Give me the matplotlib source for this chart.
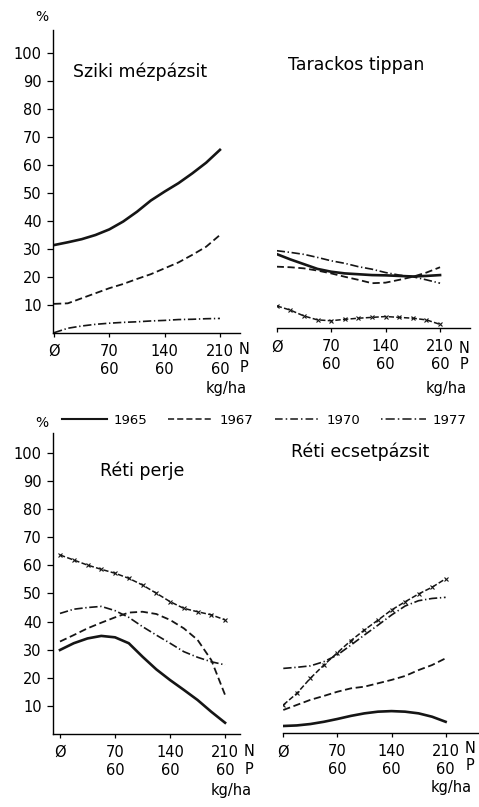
import matplotlib
matplotlib.use("Agg")
import matplotlib.pyplot as plt
from matplotlib.lines import Line2D

# N dose (kg/ha), with 60 kg/ha P from 70 N onwards
dose = [0, 17.5, 35, 52.5, 70, 87.5, 105, 122.5, 140, 157.5, 175, 192.5, 210]
tick_pos = [0, 70, 140, 210]
tick_lab = ["Ø", "70\n60", "140\n60", "210\n60"]
yticks = [10, 20, 30, 40, 50, 60, 70, 80, 90, 100]
years = ["1965", "1967", "1970", "1977"]

# share in the sward, %
sziki_1965 = [31.4, 32.4, 33.5, 35.0, 37.0, 39.8, 43.3, 47.3, 50.5, 53.5, 57.0, 60.8, 65.4]
sziki_1967 = [10.4, 10.6, 12.4, 14.2, 16.0, 17.5, 19.3, 21.0, 23.1, 25.2, 27.9, 30.8, 35.0]
sziki_1970 = [0.1, 1.7, 2.5, 3.1, 3.5, 3.8, 4.0, 4.3, 4.5, 4.8, 4.9, 5.1, 5.2]

tarackos_1965 = [26.5, 24.6, 22.9, 21.2, 20.2, 19.6, 19.3, 19.0, 18.9, 18.7, 18.5, 18.7, 19.0]
tarackos_1967 = [22.0, 21.8, 21.4, 20.6, 19.6, 18.4, 17.3, 16.1, 16.3, 17.3, 18.4, 19.9, 21.8]
tarackos_1970 = [27.7, 27.1, 26.4, 25.3, 24.1, 23.2, 22.0, 21.1, 19.9, 19.0, 18.4, 17.3, 16.1]
tarackos_1977 = [8.0, 6.5, 4.4, 3.0, 2.7, 3.2, 3.6, 3.9, 4.2, 3.9, 3.6, 3.0, 1.4]

perje_1965 = [29.9, 32.3, 34.0, 34.9, 34.4, 32.3, 27.5, 23.0, 19.2, 15.7, 12.1, 7.9, 4.0]
perje_1967 = [32.9, 35.2, 37.6, 39.6, 41.5, 43.2, 43.5, 42.7, 40.6, 37.6, 33.5, 26.3, 13.9]
perje_1970 = [42.9, 44.4, 45.0, 45.4, 43.9, 41.5, 38.2, 35.2, 32.3, 29.3, 27.3, 25.7, 24.6]
perje_1977 = [63.7, 61.9, 60.1, 58.6, 57.2, 55.4, 53.0, 50.1, 47.1, 44.7, 43.5, 42.4, 40.6]

ecset_1965 = [2.6, 2.8, 3.3, 4.1, 5.1, 6.2, 7.1, 7.7, 7.9, 7.7, 7.1, 5.9, 4.1]
ecset_1967 = [8.3, 10.1, 11.9, 13.3, 14.8, 16.0, 16.6, 17.8, 19.0, 20.4, 22.5, 24.3, 26.7]
ecset_1970 = [23.1, 23.5, 24.0, 25.5, 27.9, 31.4, 35.0, 38.5, 42.1, 45.3, 47.2, 48.0, 48.4]
ecset_1977 = [10.1, 14.2, 19.6, 24.3, 28.7, 33.0, 36.8, 40.3, 43.9, 46.8, 49.6, 52.0, 55.0]

INK = "#151515"
styles = {
    "1965": dict(color=INK, lw=1.9, ls="-"),
    "1967": dict(color=INK, lw=1.3, ls=(0, (4, 2))),
    "1970": dict(color=INK, lw=1.2, ls=(0, (5, 1.6, 0.8, 1.6))),
    "1977": dict(color=INK, lw=1.1, ls=(0, (3.5, 1.5)), marker="x", ms=3, mew=0.8),
}

W, H = 479, 807
fig = plt.figure(figsize=(W / 100, H / 100), dpi=100)


def px_axes(left, right, top, bottom):
    return fig.add_axes([left / W, 1 - bottom / H, (right - left) / W, (bottom - top) / H])


def panel(ax, xlim, ylim, series, with_y, rows):
    for year, vals in series.items():
        ax.plot(dose, vals, **styles[year])
    ax.set_xlim(*xlim)
    ax.set_ylim(*ylim)
    for s in ["top", "right"]:
        ax.spines[s].set_visible(False)
    ax.spines["bottom"].set_linewidth(1.0)
    ax.spines["left"].set_linewidth(1.0)
    ax.set_xticks(tick_pos, tick_lab)
    ax.tick_params(axis="x", direction="out", length=3, width=0.9, pad=5, labelsize=10.5)
    for lbl in ax.get_xticklabels():
        lbl.set_linespacing(1.25)
    if with_y:
        ax.set_yticks(yticks)
        ax.tick_params(axis="y", direction="out", length=4, width=0.9, pad=4, labelsize=10.5)
    else:
        ax.spines["left"].set_visible(False)
        ax.set_yticks([])
    # units next to the last tick
    for txt, dx, dy in [("N", 24, rows[0]), ("P", 24, rows[1]), ("kg/ha", 6, rows[2])]:
        ax.annotate(txt, xy=(210, 0), xycoords=("data", "axes fraction"),
                    xytext=(dx, dy), textcoords="offset pixels",
                    ha="center", va="center", fontsize=10.5)


ax1 = px_axes(53, 240, 30, 333)
panel(ax1, (-1.3, 235.4), (0, 108.2),
      {"1965": sziki_1965, "1967": sziki_1967, "1970": sziki_1970}, True, (-16, -34, -55))

ax2 = px_axes(276.7, 470, 30, 328.3)
panel(ax2, (0, 248.5), (0, 106.5),
      {"1965": tarackos_1965, "1967": tarackos_1967, "1970": tarackos_1970,
       "1977": tarackos_1977}, False, (-20, -36, -60))

ax3 = px_axes(53, 240, 433, 734)
panel(ax3, (-8.9, 229), (0, 107.1),
      {"1965": perje_1965, "1967": perje_1967, "1970": perje_1970,
       "1977": perje_1977}, True, (-17, -36, -56))

ax4 = px_axes(283.3, 478, 433, 733.3)
panel(ax4, (0, 251.9), (0, 106.9),
      {"1965": ecset_1965, "1967": ecset_1967, "1970": ecset_1970,
       "1977": ecset_1977}, False, (-15, -32, -54))

# panel titles
titles = [("Sziki mézpázsit", 140, 77), ("Tarackos tippan", 356, 70),
          ("Réti perje", 142, 476), ("Réti ecsetpázsit", 360, 457)]
for t, x, y in titles:
    fig.text(x / W, 1 - y / H, t, ha="center", va="baseline", fontsize=12.5)

fig.text(42 / W, 1 - 17 / H, "%", ha="center", va="center", fontsize=10)
fig.text(42 / W, 1 - 423 / H, "%", ha="center", va="center", fontsize=10)

# legend
handles = [
    Line2D([], [], color=INK, lw=1.5, ls="-"),
    Line2D([], [], color=INK, lw=1.1, ls=(0, (4, 2))),
    Line2D([], [], color=INK, lw=1.1, ls=(0, (5, 2, 1, 2))),
    Line2D([], [], color=INK, lw=1.1, ls=(0, (1, 2, 6, 2))),
]
fig.legend(handles, years, loc="center left", bbox_to_anchor=(62 / W, 1 - 420 / H),
           ncol=4, frameon=False, fontsize=9.5, handlelength=3.4, handletextpad=0.5,
           columnspacing=1.6, borderpad=0, borderaxespad=0)

fig.savefig("out.png", dpi=100)
